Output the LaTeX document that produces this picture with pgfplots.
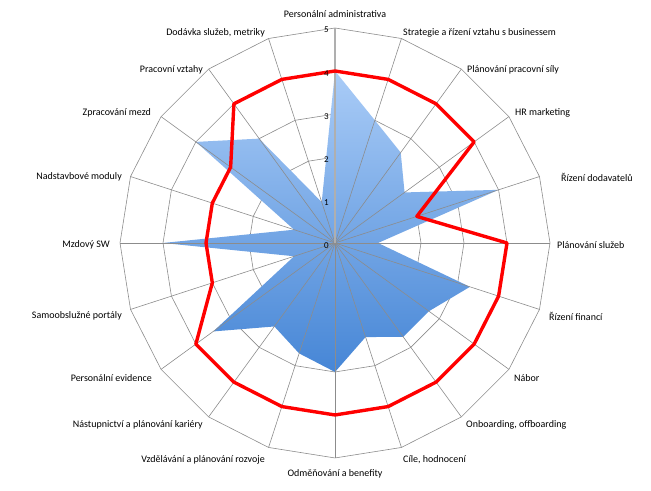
\documentclass[border=0pt]{standalone}
\usepackage{fontspec}
\setmainfont{Carlito}
\usepackage{pgfplots}
\pgfplotsset{compat=1.18}
\definecolor{gridgray}{RGB}{140,140,140}
\definecolor{axisgray}{RGB}{175,175,175}
\definecolor{bluetop}{RGB}{170,204,247}
\definecolor{bluebot}{RGB}{70,134,214}
\begin{document}
\begin{tikzpicture}
\begin{axis}[
  x=43pt, y=43pt,
  xmin=-7.791, xmax=7.349, ymin=-5.767, ymax=5.651,
  hide axis, clip=false,
]
\path (rel axis cs:0,0) rectangle (rel axis cs:1,1);
% rings
\pgfplotsinvokeforeach{1,2,3,4,5}{
  \addplot[gridgray, line width=0.6pt, domain=0:360, samples=21, mark=none] ({#1*cos(x)},{#1*sin(x)});
}
% actual state (blue)
\addplot[data cs=polar, draw=none, top color=bluetop, bottom color=bluebot, mark=none] coordinates {
(90,4) (72,3) (54,2.6) (36,2) (18,4) (0,1) (-18,3.3) (-36,2.7) (-54,2.7) (-72,2.3)
(-90,3) (-108,2.7) (-126,2.4) (-144,3.5) (-162,1) (-180,4) (-198,1) (-216,4) (-234,3) (-252,1) (-270,4)
};
% spokes
\pgfplotsinvokeforeach{0,18,36,54,72,108,126,144,162,180,198,216,234,252,270,288,306,324,342}{
  \addplot[data cs=polar, gridgray, line width=0.6pt, mark=none] coordinates {(#1,0) (#1,5)};
}
\addplot[data cs=polar, axisgray, line width=1.4pt, mark=none] coordinates {(90,0) (90,5)};
% target (red)
\addplot[data cs=polar, red, line width=3.4pt, line join=round, mark=none] coordinates {
(90,4) (72,4) (54,4) (36,4) (18,2) (0,4) (-18,4) (-36,4) (-54,4) (-72,4)
(-90,4) (-108,4) (-126,4) (-144,4) (-162,3) (-180,3) (-198,3) (-216,3) (-234,4) (-252,4) (-270,4)
};
% value labels
\begin{scope}[every node/.style={anchor=east, font=\fontsize{9}{10}\selectfont, inner sep=0pt}]
\node at (axis cs:-0.14,-0.05) {0};
\node at (axis cs:-0.14,0.95) {1};
\node at (axis cs:-0.14,1.95) {2};
\node at (axis cs:-0.14,2.95) {3};
\node at (axis cs:-0.14,3.95) {4};
\node at (axis cs:-0.14,4.95) {5};
\end{scope}
% category labels
\begin{scope}[every node/.style={font=\fontsize{10}{11}\selectfont, inner sep=0pt}]
\node[anchor=center] at (axis cs:0,5.326) {Personální administrativa};
\node[anchor=west] at (axis cs:1.581,4.884) {Strategie a řízení vztahu s businessem};
\node[anchor=west] at (axis cs:3.070,4.023) {Plánování pracovní síly};
\node[anchor=west] at (axis cs:4.186,3.023) {HR marketing};
\node[anchor=west] at (axis cs:5.256,1.535) {Řízení dodavatelů};
\node[anchor=west] at (axis cs:5.163,-0.047) {Plánování služeb};
\node[anchor=west] at (axis cs:4.977,-1.698) {Řízení financí};
\node[anchor=west] at (axis cs:4.163,-3.140) {Nábor};
\node[anchor=west] at (axis cs:3.047,-4.233) {Onboarding, offboarding};
\node[anchor=west] at (axis cs:1.581,-5.047) {Cíle, hodnocení};
\node[anchor=center] at (axis cs:0,-5.372) {Odměňování a benefity};
\node[anchor=east] at (axis cs:-1.628,-5.047) {Vzdělávání a plánování rozvoje};
\node[anchor=east] at (axis cs:-3.070,-4.233) {Nástupnictví a plánování kariéry};
\node[anchor=east] at (axis cs:-4.256,-3.140) {Personální evidence};
\node[anchor=east] at (axis cs:-4.953,-1.698) {Samoobslužné portály};
\node[anchor=east] at (axis cs:-5.233,-0.047) {Mzdový SW};
\node[anchor=east] at (axis cs:-4.953,1.535) {Nadstavbové moduly};
\node[anchor=east] at (axis cs:-4.279,3.023) {Zpracování mezd};
\node[anchor=east] at (axis cs:-3.070,4.023) {Pracovní vztahy};
\node[anchor=east] at (axis cs:-1.628,4.884) {Dodávka služeb, metriky};
\end{scope}
\end{axis}
\end{tikzpicture}
\end{document}
